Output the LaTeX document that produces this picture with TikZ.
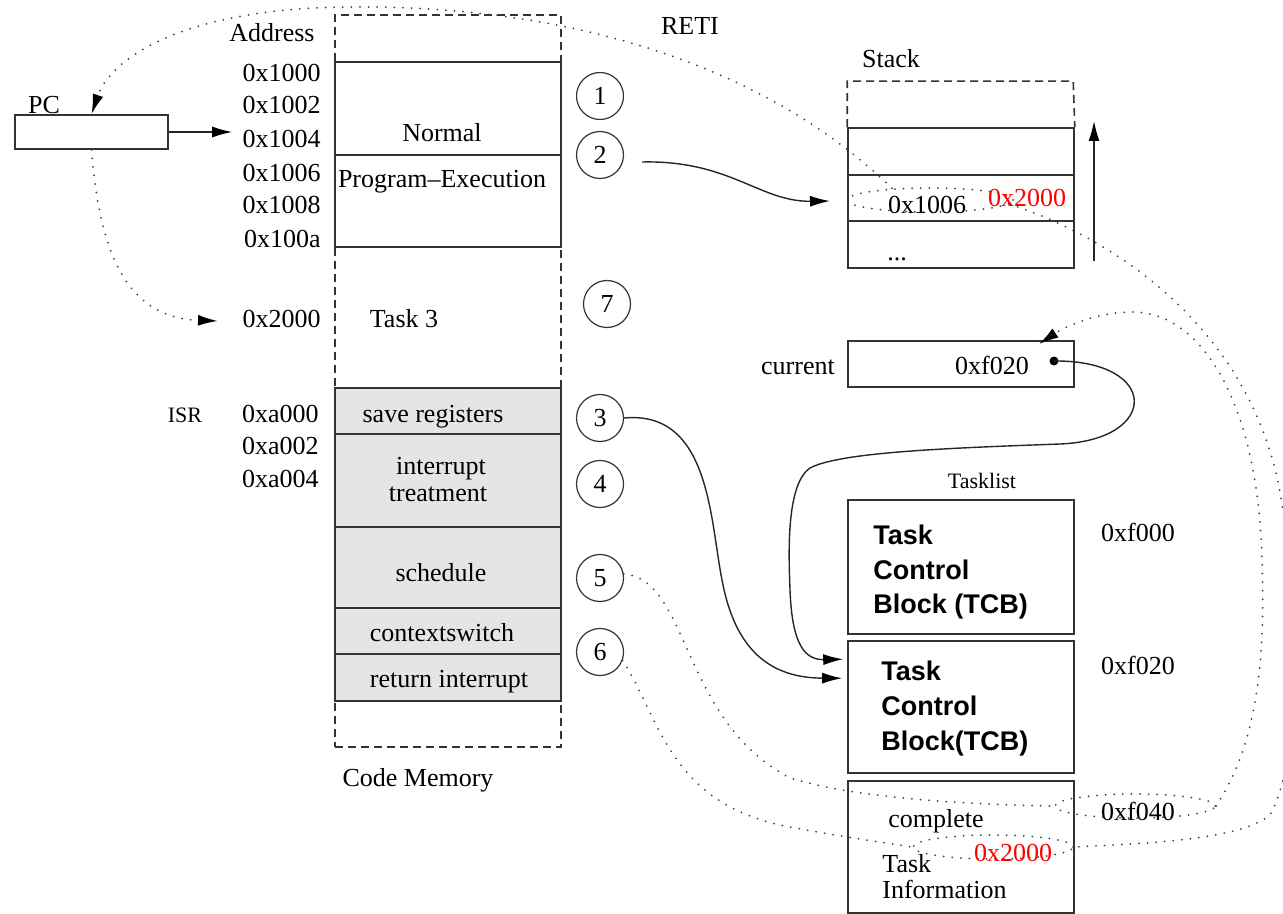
\documentclass[tikz,border=0pt]{standalone}
\usepackage{fontspec}
\setmainfont{Liberation Serif}
\newfontfamily\arialf{Liberation Sans}
\usetikzlibrary{arrows.meta,shapes.geometric,calc}
\begin{document}
\begin{tikzpicture}[x=0.5pt,y=-0.5pt,
  txt/.style={font=\fontsize{13}{15}\selectfont, inner sep=0pt},
  small/.style={font=\fontsize{11}{13}\selectfont, inner sep=0pt},
  tcbtxt/.style={font=\arialf\bfseries\fontsize{13.5}{17}\selectfont, inner sep=0pt, anchor=base west},
  box/.style={draw=black!80, line width=0.8pt, minimum width=113pt, inner sep=0pt},
  gbox/.style={box, fill=black!10},
  circ/.style={circle, draw=black!80, line width=0.6pt, minimum size=23.5pt, inner sep=0pt, font=\fontsize{13}{15}\selectfont},
  dotline/.style={draw=black!75, line width=1pt, line cap=round, dash pattern=on 0pt off 4.3pt},
  dashbox/.style={draw=black!80, line width=0.8pt, dash pattern=on 4pt off 2.5pt},
  tip/.style={-{Latex[length=10pt,width=5.5pt,color=black]}},
  arr/.style={draw=black!85, line width=0.7pt, tip},
  ell/.style={ellipse, draw=black!75, line width=1pt, line cap=round, dash pattern=on 0pt off 4.3pt, inner sep=0pt},
]
\useasboundingbox (0,0) rectangle (1283,914);

% ---------- code memory ----------
\node[dashbox, minimum width=113pt, minimum height=366pt, inner sep=0pt] (cm) at (448,381) {};
\node[box, minimum height=46.5pt] (normA) at (448,108.5) {};
\node[box, minimum height=46pt] (normB) at (448,201) {};
\node[gbox, minimum height=23pt] (save) at (448,411) {};
\node[gbox, minimum height=46.5pt] (intr) at (448,480.5) {};
\node[gbox, minimum height=40.5pt] (sched) at (448,567.5) {};
\node[gbox, minimum height=23pt] (ctx) at (448,631) {};
\node[gbox, minimum height=23.5pt] (ret) at (448,677.5) {};

% ---------- PC ----------
\node[box, minimum width=76.5pt, minimum height=17pt] (pc) at (91.5,132) {};
\node[txt, anchor=base] (pclab) at (44,114) {PC};

% ---------- stack ----------
\node[box, minimum height=23.5pt] (s1) at (961,151.5) {};
\node[box, minimum height=23pt] (s2) at (961,198) {};
\node[box, minimum height=23.5pt] (s3) at (961,244.5) {};
\draw[dashbox] (s1.north west) -- ++(0,-46) -- ++(226,0) -- (s1.north east);

% ---------- current / task list ----------
\node[box, minimum height=23pt] (cur) at (961,364) {};
\node[box, minimum height=67pt] (tcb1) at (961,567) {};
\node[box, minimum height=66pt] (tcb2) at (961,707) {};
\node[box, minimum height=66pt] (tinfo) at (961,847) {};

% ---------- circles ----------
\node[circ] (c1) at (600,96) {1};
\node[circ] (c2) at (600,155) {2};
\node[circ] (c7) at (607,304) {7};
\node[circ] (c3) at (600,418) {3};
\node[circ] (c4) at (600,484) {4};
\node[circ] (c5) at (600,578) {5};
\node[circ] (c6) at (600,652) {6};

% ---------- ellipses ----------
\node[ell, minimum width=83pt, minimum height=12pt] (el1) at (930,200) {};
\node[ell, minimum width=80pt, minimum height=12pt] (el2) at (1135,806) {};
\node[ell, minimum width=80pt, minimum height=12pt] (el3) at (993,847) {};

% ---------- texts ----------
\node[txt, anchor=base] (addr) at (272,42) {Address};
\node[txt, anchor=base east] (a1000) at (321,82) {0x1000};
\node[txt, anchor=base east] (a1002) at (321,114) {0x1002};
\node[txt, anchor=base east] (a1004) at (321,148) {0x1004};
\node[txt, anchor=base east] (a1006) at (321,182) {0x1006};
\node[txt, anchor=base east] (a1008) at (321,214) {0x1008};
\node[txt, anchor=base east] (a100a) at (321,248) {0x100a};
\node[txt, anchor=base east] (a2000) at (321,328) {0x2000};
\node[txt, anchor=base east] (aa000) at (319,422) {0xa000};
\node[txt, anchor=base east] (aa002) at (319,454) {0xa002};
\node[txt, anchor=base east] (aa004) at (319,487) {0xa004};
\node[small, anchor=base] (isr) at (185,422) {ISR};

\node[txt, anchor=base] (tnormal) at (442,142) {Normal};
\node[txt, anchor=base] (tprog) at (442,188) {Program--Execution};
\node[txt, anchor=base] (ttask3) at (404,328) {Task 3};
\node[txt, anchor=base] (tsave) at (433,422) {save registers};
\node[txt, anchor=base] (tintr1) at (441,474) {interrupt};
\node[txt, anchor=base] (tintr2) at (438,501) {treatment};
\node[txt, anchor=base] (tsched) at (441,581) {schedule};
\node[txt, anchor=base] (tctx) at (442,641) {contextswitch};
\node[txt, anchor=base] (tret) at (449,687) {return interrupt};
\node[txt, anchor=base] (tcm) at (418,786) {Code Memory};
\node[txt, anchor=base] (treti) at (690,35) {RETI};

\node[txt, anchor=base] (tstack) at (891,68) {Stack};
\node[txt, anchor=base] (t1006) at (927,214) {0x1006};
\node[txt, anchor=base, text=red] (ts2000) at (1027,207) {0x2000};
\node[txt, anchor=base] (tdots) at (897,261) {...};

\node[txt, anchor=base] (tcur) at (798,374) {current};
\node[txt, anchor=base] (tcurv) at (992,374) {0xf020};
\node[circle, fill=black, inner sep=0pt, minimum size=4.5pt] (cdot) at (1054,361) {};

\node[small, anchor=base] (tlist) at (982,488) {Tasklist};
\node[tcbtxt] (ta1) at (873,544) {Task};
\node[tcbtxt] (ta2) at (873,579) {Control};
\node[tcbtxt] (ta3) at (873,613) {Block (TCB)};
\node[tcbtxt] (tb1) at (881,680) {Task};
\node[tcbtxt] (tb2) at (881,715) {Control};
\node[tcbtxt] (tb3) at (881,750) {Block(TCB)};
\node[txt, anchor=base] (tf000) at (1138,541) {0xf000};
\node[txt, anchor=base] (tf020) at (1138,674) {0xf020};
\node[txt, anchor=base] (tf040) at (1138,820) {0xf040};
\node[txt, anchor=base] (tcomp) at (936,827) {complete};
\node[txt, anchor=base west] (tti1) at (882,872) {Task};
\node[txt, anchor=base west] (tti2) at (882,898) {Information};
\node[txt, anchor=base, text=red] (tt2000) at (1013,861) {0x2000};

% ---------- coordinates ----------
\coordinate (t2000) at (218,321);
\coordinate (c2s) at (642,162);
\coordinate (stip) at (830,201);
\coordinate (g0) at (1094,261);
\coordinate (g1) at (1094,121);
\coordinate (curtip) at ($(cur.north east)+(-36,4)$);
\coordinate (t3tip) at ($(tcb2.north west)+(-5,38)$);
\coordinate (curarrow) at ($(tcb2.north west)+(-4,19)$);

% ---------- solid connectors ----------
\draw[arr, shorten >=5pt] (pc.east) -- (pc.east -| a1004.west);
\draw[arr] (c2s) .. controls (730,160) and (760,202) .. (stip);
\draw[arr] (g0) -- (g1);
\draw[arr] (c3.east) .. controls (710,410) and (710,520) .. (722,580)
  .. controls (735,650) and (770,678) .. (t3tip);
\draw[arr] (cdot.center) .. controls (1160,360) and (1160,440) .. (1060,444)
  .. controls (950,448) and (840,452) .. (810,468)
  .. controls (785,485) and (789,560) .. (790,590)
  .. controls (792,645) and (805,660) .. (curarrow);

% ---------- dotted connectors ----------
\draw[dotline, tip] (pc.south) .. controls (100,260) and (130,318) .. (t2000);
\draw[dotline, tip] (el1.163) .. controls (760,60) and (560,5) .. (350,7)
  .. controls (180,8) and (110,60) .. (pc.north);
\draw[dotline] (el1.-3) .. controls (1120,240) and (1270,340) .. (1285,530)
  .. controls (1295,650) and (1300,760) .. (1270,815)
  .. controls (1240,840) and (1150,843) .. (el3.east);
\draw[dotline] (c5.10) .. controls (690,580) and (680,720) .. (790,778)
  .. controls (860,800) and (990,805) .. (el2.west);
\draw[dotline, tip] (el2.east) .. controls (1260,740) and (1265,650) .. (1262,560)
  .. controls (1258,400) and (1200,310) .. (1130,312)
  .. controls (1090,313) and (1060,330) .. (curtip);
\draw[dotline] (c6.-20) .. controls (660,720) and (670,800) .. (780,825)
  .. controls (830,835) and (880,842) .. (el3.west);
\end{tikzpicture}
\end{document}
